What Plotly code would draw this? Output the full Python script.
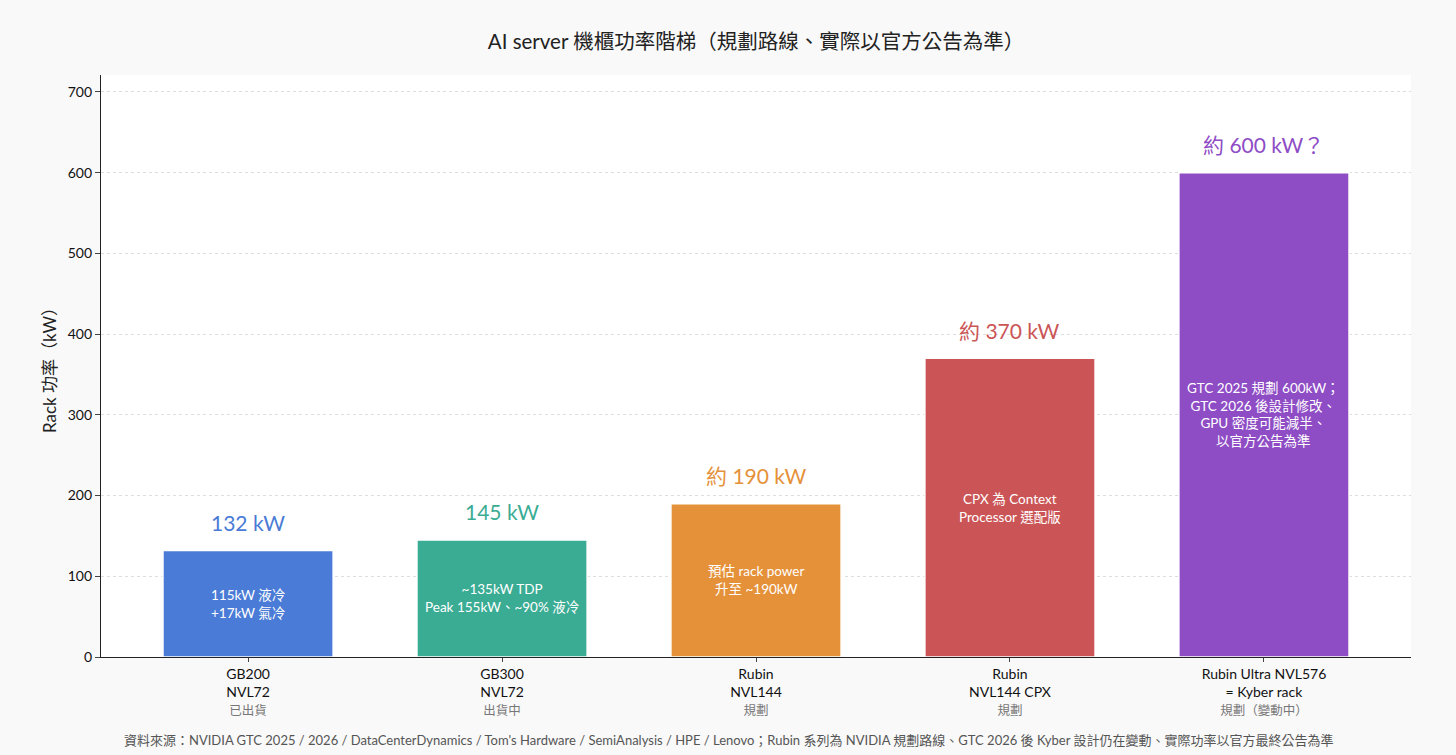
import plotly.graph_objects as go

categories = ["GB200<br>NVL72", "GB300<br>NVL72", "Rubin<br>NVL144", "Rubin<br>NVL144 CPX", "Rubin Ultra NVL576<br>= Kyber rack"]
status = ["已出貨", "出貨中", "規劃", "規劃", "規劃（變動中）"]
values = [132, 145, 190, 370, 600]
top_labels = ["132 kW", "145 kW", "約 190 kW", "約 370 kW", "約 600 kW？"]
inner_notes = [
    "115kW 液冷<br>+17kW 氣冷",
    "~135kW TDP<br>Peak 155kW、~90% 液冷",
    "預估 rack power<br>升至 ~190kW",
    "CPX 為 Context<br>Processor 選配版",
    "GTC 2025 規劃 600kW；<br>GTC 2026 後設計修改、<br>GPU 密度可能減半、<br>以官方公告為準",
]
colors = ["#4a7bd6", "#3aac94", "#e5913a", "#cb5556", "#8e4cc5"]
yticks = [0, 100, 200, 300, 400, 500, 600, 700]

FONT = "Lato, 'Noto Sans CJK TC', sans-serif"
x = list(range(len(categories)))

fig = go.Figure()
fig.add_trace(go.Bar(
    x=x, y=values, width=0.67,
    marker=dict(color=colors, line=dict(color="white", width=1.5)),
    hoverinfo="skip", showlegend=False,
))

for i, v in enumerate(values):
    fig.add_annotation(x=i, y=v, yref="y", text=top_labels[i], showarrow=False,
                       yshift=28, font=dict(size=21, color=colors[i], family=FONT))
    fig.add_annotation(x=i, y=v / 2, text=inner_notes[i], showarrow=False,
                       font=dict(size=13.5, color="white", family=FONT),
                       bgcolor=colors[i] if i == 1 else None,
                       borderpad=5 if i == 1 else 1)

ticktext = [f"{c}<br><span style='color:#777777;font-size:12.5px'>{s}</span>" for c, s in zip(categories, status)]

fig.update_layout(
    width=1456, height=755,
    paper_bgcolor="#f9f9f9", plot_bgcolor="white",
    margin=dict(l=101, r=45, t=75, b=98),
    font=dict(family=FONT, color="#111111", size=13),
    title=dict(text="AI server 機櫃功率階梯（規劃路線、實際以官方公告為準）",
               x=0.5, xref="paper", xanchor="center", y=0.944, yanchor="middle",
               font=dict(size=20.5, color="#222222", family=FONT)),
    bargap=0.33,
    xaxis=dict(range=[-0.579, 4.579], tickmode="array", tickvals=x, ticktext=ticktext,
               showline=True, linecolor="#222222", linewidth=1.2, ticks="outside",
               ticklen=4, tickcolor="#444444", showgrid=False, zeroline=False,
               tickfont=dict(size=14, color="#111111", family=FONT)),
    yaxis=dict(range=[0, 721], tickmode="array", tickvals=yticks,
               showline=True, linecolor="#222222", linewidth=1.2, ticks="outside",
               ticklen=5, tickcolor="#444444", showgrid=True, gridcolor="#dddddd",
               griddash="dot", gridwidth=1, zeroline=False,
               tickfont=dict(size=14, color="#111111", family=FONT),
               title=dict(text="Rack 功率（kW）", font=dict(size=17, color="#222222", family=FONT),
                          standoff=6)),
)

fig.add_annotation(xref="paper", yref="paper", x=(728 - 101) / 1310, y=-0.142, yanchor="middle",
                   text="資料來源：NVIDIA GTC 2025 / 2026 / DataCenterDynamics / Tom's Hardware / SemiAnalysis / HPE / Lenovo；Rubin 系列為 NVIDIA 規劃路線、GTC 2026 後 Kyber 設計仍在變動、實際功率以官方最終公告為準",
                   showarrow=False, font=dict(size=13, color="#555555", family=FONT))

fig.write_html("out.html")
